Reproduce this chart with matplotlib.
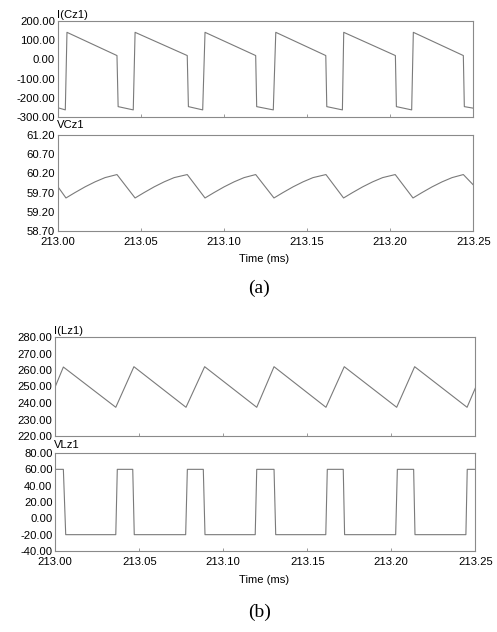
import matplotlib

matplotlib.use("Agg")
import matplotlib.pyplot as plt
from matplotlib.ticker import FormatStrFormatter

W, H = 497, 632
LINE_COLOR = "#7a7a7a"
FRAME_COLOR = "#8a8a8a"
TICK_FONT = 8.1

plt.rcParams["font.family"] = ["Liberation Sans", "DejaVu Sans"]

# time offsets from 213.00 ms
t_icz = [0.0000, 0.0044, 0.0054, 0.0355, 0.0362, 0.0453, 0.0464,
         0.0778, 0.0785, 0.0871, 0.0885, 0.1190, 0.1196, 0.1296, 0.1311,
         0.1612, 0.1618, 0.1712, 0.1720, 0.2031, 0.2037, 0.2129, 0.2139,
         0.2440, 0.2446, 0.2500]
i_cz1 = [-252, -263, 141, 20, -246, -263, 141,
         20, -246, -263, 141, 20, -246, -263, 141,
         20, -246, -263, 141, 20, -246, -263, 141,
         20, -246, -254]

t_vcz = [0.0000, 0.0048, 0.0102, 0.0163, 0.0223, 0.0283, 0.0355,
         0.0464, 0.0518, 0.0579, 0.0639, 0.0699, 0.0778,
         0.0885, 0.0939, 0.1000, 0.1060, 0.1120, 0.1190,
         0.1300, 0.1354, 0.1415, 0.1475, 0.1535, 0.1613,
         0.1719, 0.1773, 0.1834, 0.1894, 0.1954, 0.2030,
         0.2137, 0.2191, 0.2252, 0.2312, 0.2372, 0.2440,
         0.2500]
v_cz1 = [59.85, 59.56, 59.70, 59.85, 59.98, 60.09, 60.17,
         59.56, 59.70, 59.85, 59.98, 60.09, 60.17,
         59.56, 59.70, 59.85, 59.98, 60.09, 60.17,
         59.56, 59.70, 59.85, 59.98, 60.09, 60.17,
         59.56, 59.70, 59.85, 59.98, 60.09, 60.17,
         59.56, 59.70, 59.85, 59.98, 60.09, 60.17,
         59.90]

t_ilz = [0.0000, 0.0048, 0.0360, 0.0468, 0.0778, 0.0889, 0.1199,
         0.1302, 0.1611, 0.1720, 0.2032, 0.2139, 0.2451, 0.2500]
i_lz1 = [250.0, 261.8, 237.4, 262.0, 237.4, 262.0, 237.4,
         262.0, 237.4, 262.0, 237.4, 262.0, 237.4, 249.0]

t_vlz = [0.0000, 0.0048, 0.0062, 0.0360, 0.0369, 0.0461, 0.0470,
         0.0776, 0.0786, 0.0881, 0.0891, 0.1190, 0.1199, 0.1302, 0.1312,
         0.1610, 0.1619, 0.1714, 0.1722, 0.2026, 0.2036, 0.2133, 0.2141,
         0.2444, 0.2452, 0.2500]
v_lz1 = [60, 60, -20, -20, 60, 60, -20,
         -20, 60, 60, -20, -20, 60, 60, -20,
         -20, 60, 60, -20, -20, 60, 60, -20,
         -20, 60, 60]

x_ticks = [213.00, 213.05, 213.10, 213.15, 213.20, 213.25]
y_ticks_icz = [-300, -200, -100, 0, 100, 200]
y_ticks_vcz = [58.70, 59.20, 59.70, 60.20, 60.70, 61.20]
y_ticks_ilz = [220, 230, 240, 250, 260, 270, 280]
y_ticks_vlz = [-40, -20, 0, 20, 40, 60, 80]


def box(x0, y0, x1, y1):
    return [x0 / W, 1 - y1 / H, (x1 - x0) / W, (y1 - y0) / H]


def style(ax, t, y, yticks, name, name_y, show_x):
    ax.plot([213.0 + v for v in t], y, color=LINE_COLOR, lw=0.8)
    ax.set_xlim(213.0, 213.25)
    ax.set_ylim(yticks[0], yticks[-1])
    ax.set_xticks(x_ticks)
    ax.set_yticks(yticks)
    ax.xaxis.set_major_formatter(FormatStrFormatter("%.2f"))
    ax.yaxis.set_major_formatter(FormatStrFormatter("%.2f"))
    for s in ax.spines.values():
        s.set_color(FRAME_COLOR)
        s.set_linewidth(0.8)
    ax.tick_params(axis="x", direction="in", length=2.5, width=0.6,
                   color=FRAME_COLOR, labelsize=TICK_FONT, pad=4.0,
                   labelbottom=show_x)
    ax.tick_params(axis="y", length=0, labelsize=TICK_FONT, pad=2.0)
    pos = ax.get_position()
    fig.text(pos.x0 - 1 / W, name_y, name, fontsize=TICK_FONT,
             ha="left", va="baseline")


fig = plt.figure(figsize=(W / 100, H / 100), dpi=100)

a1 = fig.add_axes(box(58, 21, 473.3, 117))
style(a1, t_icz, i_cz1, y_ticks_icz, "I(Cz1)", 1 - 18.5 / H, False)
a2 = fig.add_axes(box(58, 135, 473.3, 231))
style(a2, t_vcz, v_cz1, y_ticks_vcz, "VCz1", 1 - 128.5 / H, True)
fig.text(264.5 / W, 1 - 259 / H, "Time (ms)", fontsize=TICK_FONT,
         ha="center", va="center")
fig.text(259 / W, 1 - 288 / H, "(a)", fontsize=14,
         family=["Liberation Serif", "DejaVu Serif"], ha="center", va="center")

b1 = fig.add_axes(box(55.3, 337, 475.3, 436))
style(b1, t_ilz, i_lz1, y_ticks_ilz, "I(Lz1)", 1 - 334 / H, False)
b2 = fig.add_axes(box(55.3, 453, 475.3, 551))
style(b2, t_vlz, v_lz1, y_ticks_vlz, "VLz1", 1 - 448.5 / H, True)
fig.text(264.5 / W, 1 - 580 / H, "Time (ms)", fontsize=TICK_FONT,
         ha="center", va="center")
fig.text(260 / W, 1 - 612 / H, "(b)", fontsize=14,
         family=["Liberation Serif", "DejaVu Serif"], ha="center", va="center")

fig.savefig("out.png", dpi=100)
